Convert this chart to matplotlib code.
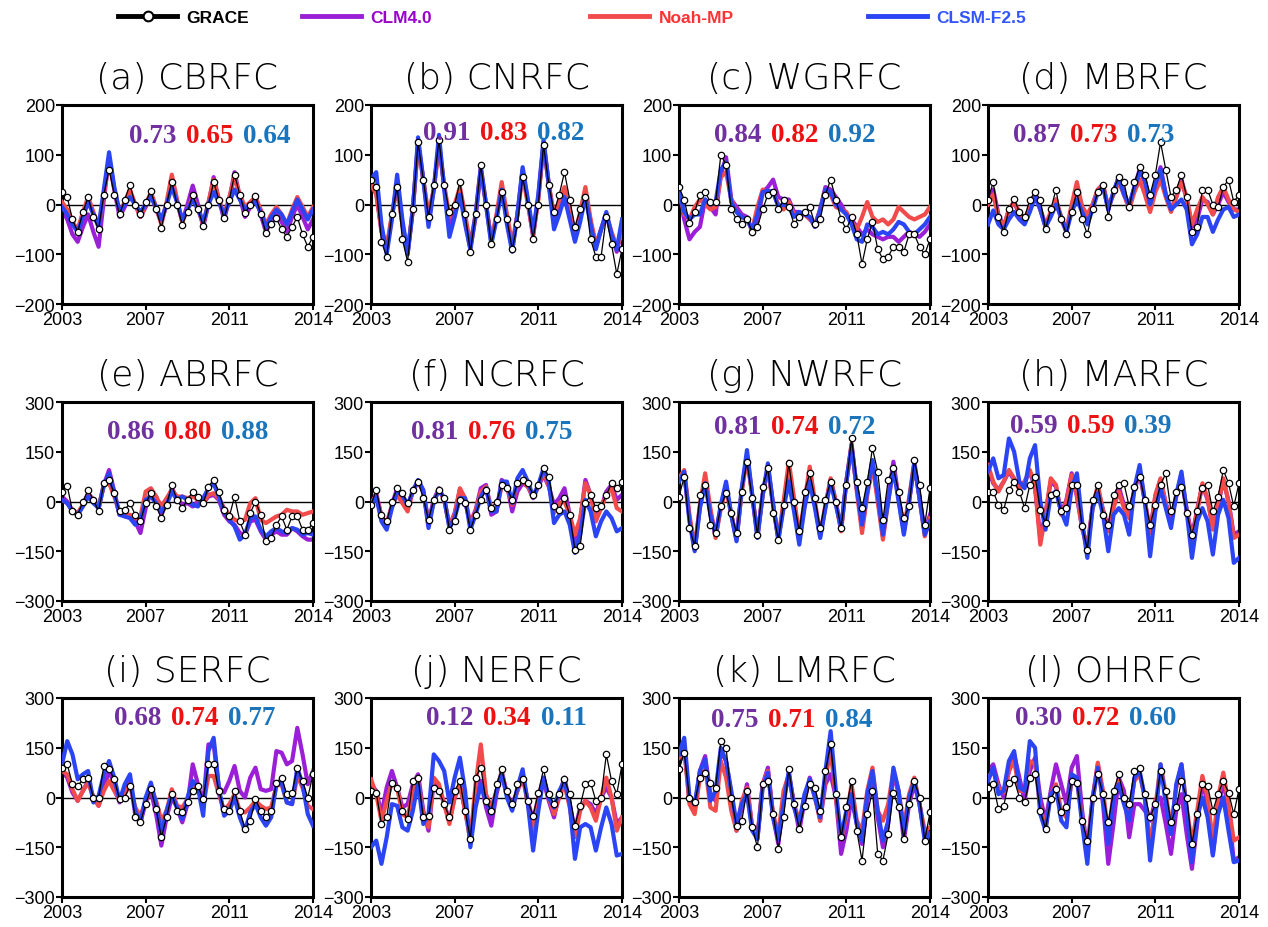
import numpy as np
import matplotlib
matplotlib.use("Agg")
import matplotlib.pyplot as plt
from matplotlib.lines import Line2D

# quarterly samples, Jan 2003 .. Jan 2015 (axis runs 2003-2014 inclusive)
years = 2003 + 0.25 * np.arange(49)

titles = ["(a) CBRFC", "(b) CNRFC", "(c) WGRFC", "(d) MBRFC",
          "(e) ABRFC", "(f) NCRFC", "(g) NWRFC", "(h) MARFC",
          "(i) SERFC", "(j) NERFC", "(k) LMRFC", "(l) OHRFC"]

# correlation with GRACE: CLM4.0, Noah-MP, CLSM-F2.5
corr = [(0.73, 0.65, 0.64), (0.91, 0.83, 0.82), (0.84, 0.82, 0.92), (0.87, 0.73, 0.73),
        (0.86, 0.80, 0.88), (0.81, 0.76, 0.75), (0.81, 0.74, 0.72), (0.59, 0.59, 0.39),
        (0.68, 0.74, 0.77), (0.12, 0.34, 0.11), (0.75, 0.71, 0.84), (0.30, 0.72, 0.60)]

# ---- TWS anomalies (mm) ----
grace_a = [25, 15, -30, -55, -15, 15, -25, -50, 20, 70, 20, -20, 10, 40, 0, -20, 5, 28, -10, -47, 0, 45, 0, -42, -15,
           19, -10, -43, 0, 45, 10, -28, 10, 60, 20, -18, 0, 18, -20, -58, -40, -28, -50, -65, -45, -25, -60, -85, -65]
clm_a = [-10, -30, -60, -75, -45, -20, -55, -85, 10, 95, 30, -25, -5, 25, 0, -25, -5, 20, -10, -35, 0, 50, 5, -35, 0,
         38, 0, -45, 0, 55, 10, -30, 10, 65, 15, -25, -5, 15, -20, -55, -30, -15, -35, -55, -25, 0, -25, -50, -30]
noah_a = [5, -10, -35, -50, -15, 15, -15, -45, 20, 90, 30, -15, 5, 30, 0, -25, 0, 25, -5, -40, 5, 60, 10, -35, -10,
          15, -10, -40, 5, 50, 10, -20, 15, 55, 20, -5, 5, 15, -10, -40, -20, -5, -20, -40, -10, 15, -5, -25, -5]
clsm_a = [-5, -20, -40, -55, -25, 5, -20, -45, 30, 105, 35, -15, 0, 15, 0, -15, 0, 15, -5, -30, 0, 35, 5, -30, -10,
          10, -10, -35, 0, 25, 5, -20, 5, 30, 10, -10, 0, 5, -15, -45, -25, -10, -20, -40, -15, 10, -10, -30, -10]

grace_b = [50, 35, -75, -105, -20, 35, -70, -115, -10, 125, 50, -25, 40, 130, 40, -15, 0, 45, -20, -95, -20, 80, 0, -80,
           -30, 25, -30, -90, -40, 55, 0, -70, 0, 120, 40, -15, 20, 65, 10, -45, -10, 15, -70, -105, -105, -25, -80, -140, -90]
clm_b = [40, 25, -55, -90, -25, 45, -40, -100, -10, 125, 50, -30, 30, 125, 35, -45, -10, 30, -30, -90, -25, 70, 0, -75,
         -25, 35, -30, -90, -20, 70, 5, -65, 15, 125, 40, -30, -5, 25, -20, -70, -25, 25, -35, -85, -50, -20, -60, -95, -50]
noah_b = [40, 20, -50, -85, -20, 35, -40, -95, -10, 120, 50, -20, 30, 115, 40, -25, 0, 35, -20, -80, -20, 75, 0, -70,
          -20, 45, -20, -80, -20, 60, 0, -60, 10, 120, 40, -20, 5, 35, -10, -60, -15, 35, -30, -80, -50, -20, -55, -85, -60]
clsm_b = [50, 65, -40, -100, -30, 60, -30, -100, -10, 135, 50, -45, 30, 140, 30, -65, -25, 20, -40, -90, -20, 75, 0, -80,
          -30, 30, -40, -95, -20, 75, 10, -55, 20, 130, 40, -50, -20, 15, -30, -75, -35, 15, -40, -90, -50, -15, -60, -90, -30]

grace_c = [35, 10, -38, -15, 20, 25, 5, 5, 100, 80, -10, -30, -40, -30, -55, -45, -10, 20, 25, -10, 10, -5, -40, -25, -15,
           -5, -40, -30, 20, 50, 10, -30, -50, -25, -60, -120, -70, -35, -90, -110, -105, -85, -85, -95, -60, -60, -85, -100, -70]
clm_c = [20, -30, -70, -55, -45, 10, -5, -20, 60, 95, 10, -5, -20, -25, -55, -35, 25, 35, 50, 15, 10, 10, -15, -15, -20,
         -25, -45, -10, 35, 30, 15, 0, -20, -30, -45, -60, -50, -60, -65, -70, -65, -65, -75, -65, -55, -60, -65, -55, -40]
noah_c = [25, -20, -30, -5, 10, 0, -10, -5, 55, 65, 10, -15, -25, -30, -50, -5, 30, 25, 25, 0, -10, 5, -20, -25, -20,
          -30, -40, -10, 30, 20, -5, -10, -15, -35, -50, -25, 5, -25, -35, -30, -40, -30, -5, -15, -25, -30, -25, -20, -5]
clsm_c = [25, -15, -30, -20, -20, 10, 0, 5, 70, 85, 5, -15, -25, -30, -50, -20, 25, 28, 25, -5, 0, -5, -25, -15, -20,
          -25, -45, -10, 30, 25, 0, -10, -20, -40, -70, -75, -40, -45, -60, -55, -60, -50, -35, -40, -55, -60, -50, -40, -25]

grace_d = [10, 45, -25, -55, -10, 12, -15, -25, 10, 25, 10, -50, -10, 30, -30, -60, -15, 25, -30, -60, -10, 25, 40, -25,
           30, 55, 45, -5, 45, 75, 60, 20, 60, 125, 70, 15, 30, 60, 15, -55, -45, 30, 30, 0, -5, 35, 50, 5, 20]
clm_d = [10, 30, -20, -45, -10, 5, -20, -35, -5, 20, -10, -45, -20, 10, -30, -55, -5, 30, -5, -25, 0, 30, 40, -10,
         25, 55, 25, -5, 35, 70, 45, 0, 40, 75, 20, -10, 15, 50, 10, -45, -30, 10, 5, -20, 0, 25, 5, -10, -10]
noah_d = [0, 20, -25, -45, -10, 5, -15, -30, -5, 20, -10, -40, -15, 10, -25, -50, 0, 45, -5, -20, 0, 30, 40, -5,
          20, 45, 20, -10, 25, 50, 20, -15, 25, 50, 15, -15, 15, 45, 15, -40, -10, 15, 0, -20, 15, 35, 10, -10, -15]
clsm_d = [-40, -12, -40, -50, -30, -15, -30, -40, -15, 15, -10, -45, -25, 0, -25, -55, -15, 10, -15, -40, -10, 25, 35, -10,
          25, 55, 20, 0, 35, 65, 50, 0, 40, 70, 20, -10, 0, 10, -10, -80, -60, -25, -25, -55, -30, -10, -5, -25, -20]

grace_e = [30, 48, -30, -40, 0, 35, 5, -30, 55, 65, 25, -30, -25, -5, -40, -60, -5, 25, -15, -50, -10, 50, 5, -20, 5,
           30, 15, -5, 45, 65, 30, -25, -45, 15, -60, -100, -35, 0, -40, -120, -110, -70, -45, -85, -45, -45, -85, -85, -65]
clm_e = [15, 0, -30, -40, -10, 25, 5, -20, 50, 95, 30, -40, -40, -45, -60, -95, -20, 30, 15, -40, -5, 40, 10, -10, -5,
         -15, 0, -5, 15, 20, 5, -40, -60, -70, -95, -100, -60, -55, -90, -115, -100, -90, -100, -100, -80, -90, -105, -115, -115]
noah_e = [5, -5, -25, -35, -10, 20, 5, -20, 50, 55, 15, -35, -45, -40, -50, -45, 30, 40, 15, -15, 10, 35, 15, 15, 10,
          15, 5, -5, 20, 25, 10, -20, -40, -55, -60, -55, -5, 10, -55, -65, -55, -45, -40, -25, -30, -30, -40, -35, -30]
clsm_e = [5, -5, -30, -40, -15, 15, -5, -20, 50, 85, 25, -40, -45, -50, -70, -60, 5, 15, -5, -30, -10, 30, 5, 15, 5,
          -10, -15, 10, 40, 55, 15, -30, -55, -75, -115, -100, -50, -45, -85, -105, -90, -80, -90, -95, -80, -85, -100, -95, -100]

grace_f = [-10, 35, -40, -60, 0, 40, 25, -5, 35, 60, 10, -55, 5, 35, 10, -85, -60, 5, -5, -85, -40, 5, 35, -20, 0,
           50, 40, 5, 55, 65, 55, 20, 50, 100, 75, -15, -25, 10, -40, -145, -135, -5, 20, -20, -15, 20, 55, 40, 60]
clm_f = [-5, 25, -45, -70, -10, 40, 15, -20, 35, 60, 30, -60, 5, 40, 5, -75, -35, 35, 0, -65, -25, 40, 50, -40, -30,
         65, 50, -30, 30, 55, 45, 10, 45, 80, 45, -10, 10, 40, -40, -125, -60, 65, 20, -50, -20, 30, 50, 5, 20]
noah_f = [-5, 20, -45, -65, -15, 20, -5, -30, 30, 60, 30, -70, 0, 35, 5, -70, -40, 40, 10, -70, -30, 30, 45, -20, -30,
          50, 45, -10, 55, 60, 45, 15, 50, 85, 50, -35, -5, 0, -40, -100, -50, 55, 20, -60, -20, 20, 40, -20, -30]
clsm_f = [-10, 15, -60, -85, -20, 30, 20, -10, 30, 65, 35, -80, 0, 35, 10, -80, -50, 10, 10, -85, -40, 15, 40, -30, -30,
          60, 60, -5, 70, 95, 60, 15, 50, 100, 60, -65, -40, -30, -70, -155, -100, 5, -30, -105, -60, -30, -50, -90, -80]

grace_g = [15, 75, -80, -135, 20, 50, -70, -95, -15, 25, -35, -95, 30, 120, 10, -100, 45, 100, -35, -115, -10, 115, 0, -90,
           30, 85, 10, -80, 5, 60, 0, -80, 50, 190, 60, -20, 60, 160, 90, -55, 65, 100, 30, -50, -15, 125, 50, -70, 40]
clm_g = [65, 85, -50, -145, -15, 65, -30, -105, -15, 45, -40, -115, 35, 140, 20, -105, 20, 105, -10, -115, -10, 100, -10, -115,
         -10, 90, -10, -105, -15, 65, -5, -85, 60, 165, 40, -80, 25, 115, 10, -105, 10, 120, 10, -90, 0, 110, 10, -90, -40]
noah_g = [70, 95, -40, -140, -10, 85, -20, -110, -20, 40, -40, -110, 30, 130, 20, -100, 20, 100, -10, -110, 0, 120, 10, -100,
          0, 105, 0, -100, -10, 70, 0, -90, 60, 175, 30, -95, 20, 110, 0, -115, 0, 100, 10, -80, 10, 120, 10, -105, -50]
clsm_g = [60, 90, -60, -150, -20, 55, -40, -100, -10, 60, -40, -120, 40, 155, 20, -110, 20, 115, -10, -115, -20, 60, -30, -130,
          -20, 60, -20, -110, -20, 60, -10, -80, 60, 170, 40, -70, 30, 125, 20, -100, 0, 100, 0, -100, 0, 115, 10, -100, -60]

grace_h = [30, 30, -10, -25, 35, 60, 30, -20, 50, 75, -25, -65, 20, 25, -30, -20, 50, 50, -75, -145, 5, 50, -40, -70, 20,
           50, 55, -15, 45, 75, 5, -70, -10, 50, 85, -30, 30, 45, -35, -100, -30, 40, 50, -30, 15, 95, 55, -15, 55]
clm_h = [100, 55, 35, 60, 90, 65, 40, 60, 90, 40, -110, -35, 60, 45, -35, 5, 85, 15, -80, -140, -15, 40, -25, -80, -10,
         45, -10, -40, 35, 85, 0, -90, 15, 65, -5, -55, 15, 70, -25, -105, -25, 50, 5, -80, -10, 65, 0, -100, -90]
noah_h = [110, 60, 30, 60, 95, 70, 35, 60, 95, 50, -130, -40, 70, 50, -40, 0, 80, 20, -80, -140, -20, 50, -30, -90, -20,
          30, -20, -50, 40, 95, 0, -95, 20, 70, -10, -60, 20, 80, -30, -115, -30, 55, 10, -85, -10, 70, 0, -110, -100]
clsm_h = [90, 130, 70, 80, 190, 150, 60, 40, 130, 170, 0, -85, 20, 30, -30, -70, 40, 85, -60, -170, -20, 25, -40, -150, -40,
          -20, -40, -100, 40, 110, 0, -165, -30, 40, -20, -80, 20, 90, -30, -170, -60, -20, -60, -160, -40, 5, -50, -185, -170]

grace_i = [90, 100, 40, 35, 55, 60, 0, 0, 95, 85, 55, -5, 0, 35, -60, -75, -20, 25, -35, -120, -60, 10, -40, -45, -15,
           20, 35, -5, 100, 100, 20, -35, -40, 20, -40, -95, -70, -5, -40, -60, -40, 45, 60, 10, 15, 90, 50, 0, 70]
clm_i = [80, 60, 15, -10, 20, 50, 0, -25, 30, 80, 40, -15, 20, 55, -50, -75, -15, 20, -50, -145, -60, 0, -30, -75, -20,
         100, 40, -20, 160, 160, 30, 15, 50, 95, 20, 0, 60, 90, 25, 20, 25, 140, 135, 100, 110, 210, 130, 40, 80]
noah_i = [80, 70, 25, -10, 20, 45, 0, -25, 20, 50, 20, -10, 10, 40, -30, -55, -10, 30, -10, -70, -40, 25, -25, -30, -5,
          35, 30, -25, 65, 65, 10, -40, -20, 10, -40, -45, -30, -10, -25, -35, -30, 35, 40, -15, -20, 65, 30, -25, -35]
clsm_i = [100, 170, 130, 55, 70, 80, -15, 5, 70, 110, 60, -10, 40, 70, -40, -75, 0, 45, -20, -110, -40, 10, -30, -65, 0,
          50, 30, -55, 140, 180, 30, -55, -40, 0, -60, -100, -45, -20, -60, -85, -60, 40, 45, -15, -20, 90, 40, -50, -85]

grace_j = [20, 15, -80, -60, 45, 30, -40, -65, 50, 60, -60, -55, 30, 20, -20, -60, 20, 50, -40, -125, 60, 90, -10, -40,
           40, 85, 20, -20, 40, 55, -10, -55, 15, 85, 10, -20, 10, 55, 10, -85, -25, 40, 45, -10, 0, 130, 50, 10, 100]
clm_j = [40, 20, -50, 30, 80, 30, -30, -20, 40, 70, -40, -100, 50, 30, -20, -70, 0, 40, -40, -120, 0, 50, -30, -85,
         10, 75, 10, -20, 20, 60, -10, -70, 0, 50, -10, -60, 10, 60, -20, -100, -30, -10, -20, -50, 0, 30, 0, -80, -60]
noah_j = [55, 10, -70, -10, 45, 30, -50, -60, 20, 50, -50, -90, 60, 40, -20, -80, 0, 40, -40, -130, 40, 160, 10, -30,
          20, 80, 10, -35, 20, 65, -20, -100, 0, 60, 0, -50, 0, 40, -30, -120, -40, -10, -30, -70, 0, 60, 0, -100, -60]
clsm_j = [-150, -130, -200, -120, -20, -25, -90, -100, -40, 45, -80, -50, 130, 110, 80, -15, 60, 120, 20, -150, -30, 40, -10,
          -50, 20, 75, 0, -40, 30, 85, -20, -160, -40, 60, 0, -30, 20, 50, -20, -185, -90, -80, -90, -160, -90, -30, -80, -175, -170]

grace_k = [85, 135, 0, -15, 60, 75, 45, 30, 170, 150, 0, -85, -70, 20, -90, -150, 40, 50, -50, -155, -60, 85, -20, -95, -25,
           40, 30, -40, 80, 160, 10, -120, -30, 50, -100, -190, -50, 20, -170, -190, -110, 15, -30, -125, -20, 50, 0, -130, -45]
clm_k = [100, 150, -10, -30, 80, 125, 10, -10, 140, 110, 10, -100, -30, 40, -90, -125, 40, 90, -60, -140, 0, 70, -20, -100,
         -10, 60, 10, -70, 40, 70, 0, -170, -100, 0, -80, -140, -10, 50, -60, -150, -80, 75, 10, -130, -20, 40, -20, -120, -100]
noah_k = [120, 150, -20, -50, 60, 95, -30, -40, 110, 60, -40, -100, -10, 30, -90, -115, 40, 80, -50, -110, 20, 70, -20, -70,
          0, 50, 0, -70, 60, 140, 0, -125, -60, 40, -70, -100, 20, 90, -40, -70, -20, 80, 20, -90, 10, 60, -20, -100, -90]
clsm_k = [130, 180, 0, -20, 80, 115, -10, 20, 150, 110, 20, -80, -20, 10, -100, -125, 30, 75, -60, -125, -20, 80, -30, -80,
          10, 55, 0, -60, 80, 200, 20, -120, -40, 10, -80, -130, 10, 80, -40, -130, -70, 90, 20, -110, 0, 50, -20, -130, -110]

grace_l = [30, 40, -35, -25, 45, 55, 0, -15, 60, 70, -40, -95, -5, 25, -45, -30, 50, 45, -70, -130, 0, 70, 10, -75, 20,
           70, 0, -20, 80, 90, 10, -60, -20, 80, 20, -75, -30, 50, 0, -140, -50, 40, 35, -40, 10, 50, 15, -50, 25]
clm_l = [80, 100, 40, 0, 80, 130, 60, -10, 80, 120, 0, -70, 20, 100, 40, -20, 90, 125, -40, -160, 0, 100, -20, -200, -80,
         60, 20, -120, -20, -20, -40, -70, -10, 0, -80, -170, -40, 10, -110, -215, -80, 50, -20, -170, -30, 50, -40, -190, -180]
noah_l = [60, 80, 30, 15, 80, 110, 20, 20, 110, 100, -30, -90, 10, 40, -40, -60, 50, 50, -60, -165, -10, 105, 20, -110, 10,
          50, -10, -40, 50, 70, 0, -145, -30, 100, 10, -90, 30, 100, -30, -140, -40, 65, 0, -135, 0, 75, -20, -130, -120]
clsm_l = [50, 90, 10, 20, 110, 140, 30, 20, 170, 150, -50, -100, 10, 30, -70, -90, 70, 60, -80, -200, -10, 90, 0, -140, 0,
          40, -20, -70, 60, 80, 0, -190, -60, 100, -20, -110, 40, 100, -40, -195, -60, 0, -60, -175, -50, 0, -100, -195, -190]

series = [(grace_a, clm_a, noah_a, clsm_a), (grace_b, clm_b, noah_b, clsm_b),
          (grace_c, clm_c, noah_c, clsm_c), (grace_d, clm_d, noah_d, clsm_d),
          (grace_e, clm_e, noah_e, clsm_e), (grace_f, clm_f, noah_f, clsm_f),
          (grace_g, clm_g, noah_g, clsm_g), (grace_h, clm_h, noah_h, clsm_h),
          (grace_i, clm_i, noah_i, clsm_i), (grace_j, clm_j, noah_j, clsm_j),
          (grace_k, clm_k, noah_k, clsm_k), (grace_l, clm_l, noah_l, clsm_l)]

# where the row of correlation numbers sits (axes fraction)
corr_pos = [(0.59, 0.845), (0.53, 0.86), (0.46, 0.85), (0.42, 0.85),
            (0.50, 0.85), (0.48, 0.85), (0.46, 0.875), (0.41, 0.88),
            (0.53, 0.90), (0.54, 0.90), (0.45, 0.89), (0.43, 0.90)]

line_colors = ["#9B1FD6", "#F24B4B", "#2B45F5"]
text_colors = ["#7030A0", "#EE1111", "#1A75BC"]
legend_names = ["GRACE", "CLM4.0", "Noah-MP", "CLSM-F2.5"]
legend_text_colors = ["black", "#9900CC", "#FF3333", "#3355FF"]

fig = plt.figure(figsize=(12.68, 9.28), dpi=100)
W, H = 1268, 928
col_left = [62, 371, 679, 988]
row_bottom = [305, 602, 898]

for i in range(12):
    row, col = divmod(i, 4)
    ax = fig.add_axes([col_left[col] / W, (H - row_bottom[row]) / H, 251 / W, 199 / H])
    grace, clm, noah, clsm = series[i]
    for vals, c, z in zip((clm, noah, clsm), line_colors, (2, 3, 4)):
        ax.plot(years, vals, color=c, lw=3.0, zorder=z, solid_joinstyle="round")
    ax.plot(years, grace, color="black", lw=0.9, marker="o", ms=4.6,
            mfc="white", mec="black", mew=0.9, zorder=5)
    ax.axhline(0, color="black", lw=1.0, zorder=1)

    ax.set_xlim(2003, 2015)
    ax.set_xticks([2003, 2007, 2011, 2015])
    ax.set_xticklabels(["2003", "2007", "2011", "2014"])
    if row == 0:
        ax.set_ylim(-200, 200)
        ax.set_yticks([-200, -100, 0, 100, 200])
    else:
        ax.set_ylim(-300, 300)
        ax.set_yticks([-300, -150, 0, 150, 300])
    for lab in ax.get_xticklabels() + ax.get_yticklabels():
        lab.set_family("Liberation Sans")
        lab.set_fontsize(13)
    ax.tick_params(direction="out", length=4, width=1.5, pad=1)
    for sp in ax.spines.values():
        sp.set_linewidth(2.2)

    ax.set_title(titles[i], fontsize=26, fontweight="light", pad=12,
                 family="DejaVu Sans")

    cx, cy = corr_pos[i]
    for j, (r, c) in enumerate(zip(corr[i], text_colors)):
        ax.annotate(f"{r:.2f}", xy=(cx, cy), xycoords="axes fraction",
                    xytext=((j - 1) * 57, 0), textcoords="offset pixels",
                    ha="center", va="center", color=c, fontsize=19.5,
                    fontweight="bold", family="Liberation Serif", zorder=6)

# legend row across the top
legend_x = [118, 302, 590, 868]
for k, name in enumerate(legend_names):
    if k == 0:
        h = Line2D([], [], color="black", lw=3.5, marker="o", ms=7,
                   mfc="white", mec="black", mew=1.5)
    else:
        h = Line2D([], [], color=line_colors[k - 1], lw=3.5)
    fig.legend(handles=[h], labels=[name], loc="center left",
               bbox_to_anchor=(legend_x[k] / W, 1 - 18 / H), frameon=False,
               borderpad=0, borderaxespad=0, handlelength=3.4, handletextpad=0.55,
               labelcolor=[legend_text_colors[k]],
               prop={"family": "Liberation Sans", "weight": "bold", "size": 12.5})

fig.savefig("out.png", dpi=100)
